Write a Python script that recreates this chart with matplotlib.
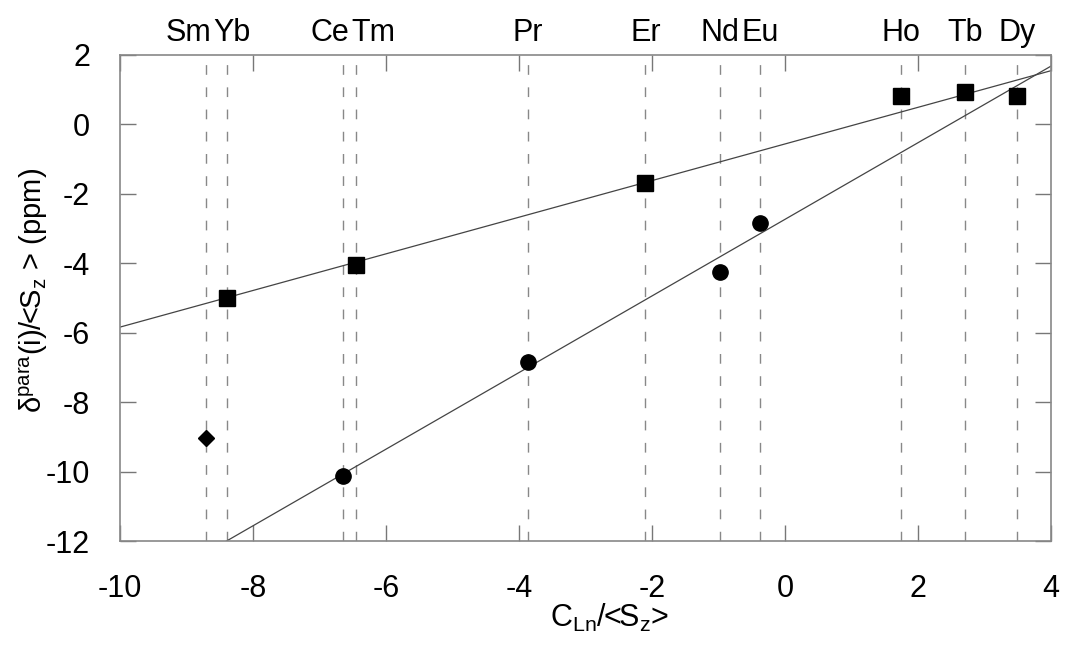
import matplotlib
matplotlib.use("Agg")
import matplotlib.pyplot as plt
import numpy as np

plt.rcParams["font.family"] = ["Liberation Sans", "DejaVu Sans"]
plt.rcParams["mathtext.fontset"] = "custom"
plt.rcParams["mathtext.rm"] = "Liberation Sans"
plt.rcParams["mathtext.it"] = "Liberation Sans"
plt.rcParams["axes.unicode_minus"] = False

# lanthanide positions (C_Ln/<Sz>) and label offsets (px)
ln_names = ["Sm", "Yb", "Ce", "Tm", "Pr", "Er", "Nd", "Eu", "Ho", "Tb", "Dy"]
ln_x = [-8.71, -8.39, -6.65, -6.45, -3.87, -2.10, -0.985, -0.37, 1.75, 2.71, 3.49]
label_shift = [-17, 5, -13, 17, 0, 0, 0, 0, 0, 0, 0]

# squares (upper fit)
sq_x = [-8.39, -6.45, -2.10, 1.75, 2.71, 3.49]
sq_y = [-5.00, -4.05, -1.69, 0.82, 0.92, 0.82]

# circles (lower fit)
ci_x = [-6.65, -3.87, -0.985, -0.37]
ci_y = [-10.12, -6.85, -4.25, -2.84]

# diamond (Sm, excluded)
di_x = [-8.71]
di_y = [-9.04]

fig = plt.figure(figsize=(10.65, 6.45), dpi=100)
ax = fig.add_axes([0.1127, 0.1612, 0.8742, 0.7543])

for x in ln_x:
    ax.axvline(x, color="#888888", lw=1.0, ls=(0, (7, 9)), zorder=1)

# linear fits
xx = np.linspace(-10, 4, 200)
p_sq = np.polyfit(sq_x, sq_y, 1)
p_ci = np.polyfit(ci_x, ci_y, 1)
ax.plot(xx, np.polyval(p_sq, xx), color="#444444", lw=0.9, zorder=2)
ax.plot(xx, np.polyval(p_ci, xx), color="#444444", lw=0.9, zorder=2)

ax.plot(sq_x, sq_y, "s", color="black", ms=11.5, zorder=3)
ax.plot(ci_x, ci_y, "o", color="black", ms=11, zorder=3)
ax.plot(di_x, di_y, "D", color="black", ms=8, zorder=3)

for name, x, dx in zip(ln_names, ln_x, label_shift):
    ax.annotate(name, xy=(x, 1.0), xycoords=("data", "axes fraction"),
                xytext=(dx * 0.72, 5), textcoords="offset points",
                ha="center", va="bottom", fontsize=22)

ax.set_xlim(-10, 4)
ax.set_ylim(-12, 2)
ax.set_xticks(np.arange(-10, 5, 2))
ax.set_yticks(np.arange(-12, 3, 2))
ax.tick_params(direction="in", length=11.5, width=1, color="#777777",
               top=True, right=True, labelsize=22)
ax.tick_params(axis="x", pad=24)
ax.tick_params(axis="y", pad=21.5)
for s in ax.spines.values():
    s.set_color("#888888")
    s.set_linewidth(1.2)

ax.set_xlabel(r"C$_{Ln}$/<S$_z$>", fontsize=22)
ax.xaxis.set_label_coords(0.526, -0.126)
ax.set_ylabel(r"$\mathrm{\delta}^{para}$(i)/<S$_z$ > (ppm)", fontsize=21)
ax.yaxis.set_label_coords(-0.075, 0.515)

fig.savefig("out.png", dpi=100)
